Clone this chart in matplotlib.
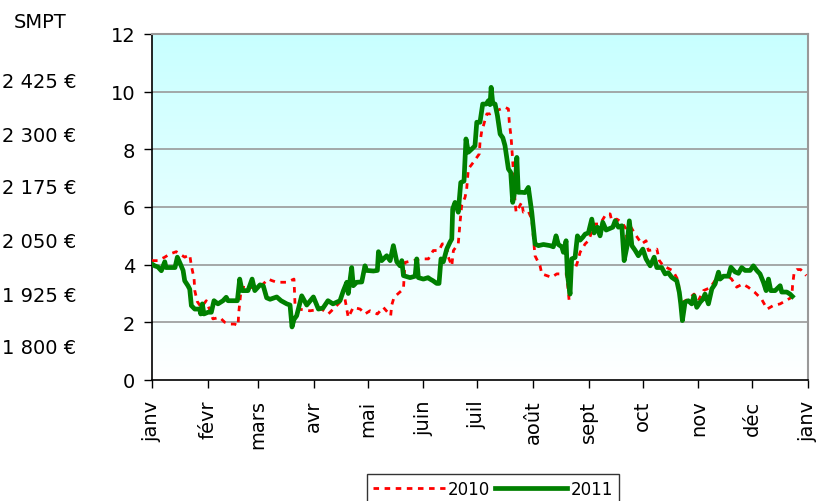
import matplotlib
matplotlib.use("Agg")
import matplotlib.pyplot as plt
import numpy as np
from matplotlib.colors import LinearSegmentedColormap

# ---- data (day of year, value) ----
days_2011 = [0, 1.5, 3.3, 5.2, 7.1, 7.8, 12.8, 14.1, 15.6, 17.3, 18.2, 20, 21, 21.9, 23.8, 26.5,
             27.1, 28, 28.9, 31.2, 33, 34.5, 36.7, 39.5, 41.3, 42.3, 45.1, 47.5, 48.8, 50.1, 53.4,
             55.7, 57.2, 60.1, 61.9, 63.8, 65.7, 69.4, 71.8, 75, 76.8, 77.9, 79, 80.5, 83.3, 86.1,
             89.8, 92.6, 95.2, 97.9, 100.7, 104.6, 106.5, 108.4, 109.2, 111.1, 112, 113.9, 116.7,
             118.5, 119.4, 123.2, 125.4, 126, 127.8, 130.6, 132.5, 134.3, 136.2, 138, 139, 139.9,
             143.6, 146.4, 147.3, 148.2, 151, 153.6, 154.7, 156.4, 158.4, 159.7, 160.8, 162.1,
             164, 165.8, 166.8, 167.3, 168.6, 170.4, 171.8, 173.6, 174.7, 176, 177.9, 179.7,
             180.7, 182.5, 184, 185.9, 187.2, 188.1, 188.7, 189.6, 190.9, 192.2, 193.7, 195.2,
             196.4, 198.3, 199.6, 200.7, 202, 203, 203.8, 205.7, 207.6, 209.4, 211.3, 213.1,
             215, 217.8, 221.5, 223.3, 224.8, 226.1, 228, 228.9, 230.4, 231.1, 232.6, 233.5,
             235.4, 236.7, 238.2, 239.7, 241, 242.8, 244.7, 246, 247.8, 249.3, 250.8, 252.7,
             254.5, 256.4, 257.7, 259.5, 261.4, 262.7, 264.2, 265.6, 267, 268.8, 270.6, 273.1,
             274.9, 277.2, 279.4, 280.9, 283.6, 285.5, 287.3, 289.2, 292, 293.4, 294.2, 295.1,
             296.6, 298.4, 300.3, 301.6, 303.1, 305, 306.5, 307.7, 309.6, 311.5, 313.3, 315.2,
             316.1, 318, 320.7, 322.1, 324.4, 326.3, 328.1, 330, 332.8, 334.6, 336.5, 338.3,
             340.2, 341.7, 343, 344.3, 346.7, 349.5, 350.4, 353.2, 355, 356.3]
vals_2011 = [4.02, 3.96, 3.92, 3.79, 4.1, 3.9, 3.9, 4.26, 4.05, 3.8, 3.44, 3.27, 3.15, 2.58, 2.46, 2.46,
             2.29, 2.64, 2.29, 2.35, 2.35, 2.75, 2.64, 2.75, 2.87, 2.75, 2.75, 2.75, 3.5, 3.1, 3.1,
             3.5, 3.1, 3.3, 3.27, 2.85, 2.8, 2.88, 2.75, 2.64, 2.6, 1.84, 2.1, 2.23, 2.92, 2.6,
             2.88, 2.46, 2.5, 2.75, 2.64, 2.75, 3.1, 3.39, 3.0, 3.9, 3.27, 3.39, 3.4,
             3.96, 3.8, 3.78, 3.8, 4.45, 4.14, 4.31, 4.14, 4.66, 4.1, 3.96, 4.14, 3.62,
             3.55, 3.6, 4.2, 3.55, 3.5, 3.55, 3.5, 3.44, 3.35, 3.35, 4.2, 4.1,
             4.54, 4.78, 4.89, 5.93, 6.16, 5.82, 6.85, 6.9, 8.36, 7.9, 8.01, 8.12,
             8.94, 8.94, 9.57, 9.57, 9.69, 9.55, 10.15, 9.6, 9.57, 9.17, 8.53, 8.4,
             8.13, 7.32, 7.2, 6.16, 6.6, 7.72, 6.51, 6.51, 6.5, 6.68, 5.82, 4.72,
             4.66, 4.7, 4.66, 4.62, 5.0, 4.7, 4.62, 4.43, 4.83, 3.68, 2.98, 4.2,
             4.25, 5.0, 4.85, 4.95, 5.06, 5.1, 5.58, 5.1, 5.3, 5.0, 5.47, 5.2,
             5.25, 5.3, 5.52, 5.3, 5.35, 4.14, 4.6, 5.52, 4.66, 4.5, 4.31, 4.54,
             4.2, 3.96, 4.26, 3.9, 3.9, 3.68, 3.72, 3.56, 3.44, 3.04, 2.64, 2.06,
             2.7, 2.75, 2.64, 2.92, 2.52, 2.7, 2.8, 2.98, 2.64, 3.16, 3.33, 3.74,
             3.5, 3.6, 3.6, 3.91, 3.75, 3.7, 3.9, 3.8, 3.8, 3.96, 3.8, 3.68,
             3.39, 3.1, 3.5, 3.1, 3.1, 3.27, 3.05, 3.05, 2.98, 2.9]

days_2010 = [0, 3.3, 7.1, 9.9, 13.5, 18.2, 21, 21.9, 23.4, 23.8, 25.2, 27.4, 30.2, 33.9, 37.7,
             40.5, 43.8, 46, 47.9, 48.2, 49.7, 54.5, 60.8, 64.7, 66.6, 69.4, 75, 79, 79.3, 79.6,
             81.4, 87.9, 94.4, 98.1, 101.8, 104.6, 107.4, 109.2, 112, 115.8, 118.5, 121.3, 125.4,
             128.7, 132.8, 133.4, 134.7, 139.9, 140.8, 145.4, 149.1, 153.8, 156.5, 159.7, 161.5,
             164, 164.9, 166.8, 167.7, 170.4, 171.4, 172.3, 174.2, 175.1, 176, 178.8, 182.1,
             182.5, 183.5, 184.4, 186.3, 188.1, 191.8, 196.4, 198.3, 198.8, 199.8, 200.7, 201.5,
             202, 202.6, 205.7, 206.6, 209.4, 211.3, 213.1, 215.9, 216.9, 219.6, 222.4, 225.2,
             230.7, 232.1, 233.5, 235.4, 236.7, 238.2, 241, 242.8, 246.5, 249.3, 252.7, 254.9,
             255.8, 258.6, 261.4, 263.8, 264.2, 266, 268.8, 272.5, 274.9, 276.2, 280.9, 282.3,
             284.5, 289.8, 292.9, 293.8, 298.4, 301.6, 304, 306.8, 310.5, 315, 320.5, 322.5,
             325.3, 328.6, 331.7, 335.4, 339.1, 342.3, 345.6, 349.5, 356, 356.4, 357.3, 358.8,
             360.9, 363.1, 364]
vals_2010 = [4.14, 4.14, 4.26, 4.37, 4.45, 4.26, 4.34, 3.96, 3.53, 3.1, 2.72, 2.52, 2.75, 2.12, 2.17,
             2.0, 1.94, 1.94, 1.88, 2.29, 3.22, 3.2, 3.27, 3.5, 3.45, 3.39, 3.39, 3.5, 3.04, 2.58,
             2.46, 2.4, 2.46, 2.29, 2.52, 2.7, 2.8, 2.17, 2.52, 2.46, 2.29, 2.4, 2.29,
             2.52, 2.23, 2.6, 2.87, 3.16, 4.08, 4.14, 4.2, 4.2, 4.49, 4.49, 4.72,
             4.72, 4.26, 3.96, 4.49, 4.72, 5.47, 6.05, 6.34, 6.63, 7.32, 7.55, 7.84,
             8.24, 8.65, 8.82, 9.23, 9.23, 9.34, 9.46, 9.4, 8.94, 8.42, 7.61, 6.86,
             6.16, 5.82, 6.16, 5.82, 5.85, 5.58, 4.31, 3.96, 3.68, 3.62, 3.56, 3.68,
             3.68, 2.75, 3.85, 3.85, 4.08, 4.43, 4.72, 4.83, 5.41, 5.41, 5.76, 5.76,
             5.52, 5.58, 5.47, 5.24, 4.83, 5.35, 5.06, 4.72, 4.83, 4.49, 4.54, 4.14,
             3.96, 3.79, 3.44, 2.64, 2.81, 2.98, 2.75, 3.1, 3.2, 3.6, 3.6, 3.5,
             3.22, 3.33, 3.22, 3.04, 2.81, 2.46, 2.58, 2.64, 2.87, 3.27, 3.74, 3.83,
             3.83, 3.68, 3.62]

month_starts = [0, 31, 59, 90, 120, 151, 181, 212, 243, 273, 304, 334, 365]
month_labels = ["janv", "févr", "mars", "avr", "mai", "juin", "juil", "août", "sept",
                "oct", "nov", "déc", "janv"]
yticks = [0, 2, 4, 6, 8, 10, 12]
smpt_labels = ["2 425 €", "2 300 €", "2 175 €", "2 050 €", "1 925 €", "1 800 €"]
series_names = ["2010", "2011"]

plt.rcParams['font.family'] = ['DejaVu Sans']

fig = plt.figure(figsize=(8.23, 5.02), dpi=100)
ax = fig.add_axes([152/823, 1-381/502, (808-152)/823, (381-35)/502])

# gradient background
cmap = LinearSegmentedColormap.from_list("bg", ["#ffffff", "#c8ffff"])
grad = np.linspace(0, 1, 256).reshape(-1, 1)
ax.imshow(grad, extent=[0, 1, 0, 1], transform=ax.transAxes, origin="lower",
          cmap=cmap, aspect="auto", zorder=0)

for y in yticks[1:-1]:
    ax.axhline(y, color="#999999", lw=1.2, zorder=1)

ax.plot(days_2010, vals_2010, color="red", lw=2.0, linestyle=(0, (2, 2)),
        label=series_names[0], zorder=3)
ax.plot(days_2011, vals_2011, color="#008000", lw=3.4, label=series_names[1],
        zorder=4, solid_joinstyle="round")

ax.set_xlim(0, 365)
ax.set_ylim(0, 12)
ax.set_yticks(yticks)
ax.set_yticklabels([str(t) for t in yticks], fontsize=14)
ax.set_xticks(month_starts)
ax.set_xticklabels(month_labels, rotation=90, fontsize=14, va="top", ha="center")
ax.tick_params(axis="both", direction="out", length=6, width=1, color="black")
ax.tick_params(axis="x", pad=8)
ax.tick_params(axis="y", pad=6)

for s in ["left", "bottom"]:
    ax.spines[s].set_color("black")
    ax.spines[s].set_linewidth(1.2)
for s in ["top", "right"]:
    ax.spines[s].set_color("#999999")
    ax.spines[s].set_linewidth(1.5)

# left side annotations
fig.text(40/823, 1-22/502, "SMPT", fontsize=14, ha="center", va="center")
ys = [82, 136, 189, 242, 296, 349]
for lbl, yy in zip(smpt_labels, ys):
    fig.text(2/823, 1-yy/502, lbl, fontsize=14, ha="left", va="center")

leg = fig.legend(loc="upper center", bbox_to_anchor=(493/823, 1-475/502), ncol=2,
                 fontsize=12, frameon=True, fancybox=False, edgecolor="black",
                 handlelength=4.3, handletextpad=0.2, columnspacing=0.3,
                 borderpad=0.35, borderaxespad=0)
leg.get_frame().set_linewidth(1.0)

fig.savefig("out.png", dpi=100)
